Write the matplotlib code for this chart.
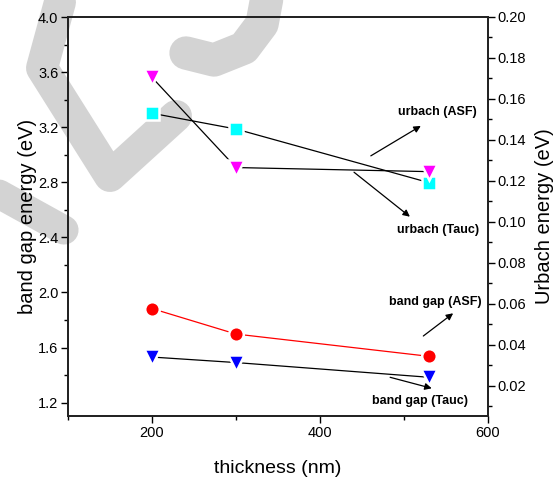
import numpy as np
import matplotlib
matplotlib.use("Agg")
import matplotlib.pyplot as plt
from matplotlib.lines import Line2D
from matplotlib import font_manager
from matplotlib.ticker import MultipleLocator, FixedLocator

plt.rcParams['font.family'] = ['Liberation Sans', 'DejaVu Sans']

# pick a condensed bold face for the callouts if it is there
try:
    font_manager.findfont('Liberation Sans Narrow', fallback_to_default=False)
    narrow = ['Liberation Sans Narrow', 'Liberation Sans']
    note_size = 11
except Exception:
    narrow = ['Liberation Sans', 'DejaVu Sans']
    note_size = 9

# film thickness (nm)
thickness = [200, 300, 530]
# band gap energies (eV), left axis
gap_asf = [1.883, 1.698, 1.536]
gap_tauc = [1.531, 1.491, 1.384]
# Urbach energies (eV), right axis
urbach_asf = [0.153, 0.1453, 0.1191]
urbach_tauc = [0.1705, 0.1265, 0.1245]

W, H = 559, 483
fig = plt.figure(figsize=(W / 100, H / 100), dpi=100)

# light grey background strokes (pixel coords, y down)
grey = '#d3d3d3'
strokes = [
    ([60, 42, 110, 176], [2, 68, 176, 116], 23),
    ([-12, 64], [188, 230], 21),
    ([186, 214, 244, 262, 268], [53, 60, 48, 24, -8], 24),
]
for px, py, w in strokes:
    fig.add_artist(Line2D(np.array(px) / W, 1 - np.array(py) / H,
                          transform=fig.transFigure, color=grey, lw=w,
                          solid_capstyle='round', solid_joinstyle='round',
                          zorder=-5))

ax = fig.add_axes([68 / W, 1 - 416 / H, 420 / W, 399 / H])
ax.patch.set_visible(False)
ax2 = ax.twinx()

ms_kw = dict(mec='white', mew=1.8)
ax.plot(thickness, gap_asf, '-', color='red', lw=0.9, marker='o', ms=10.5,
        mfc='red', **ms_kw)
ax.plot(thickness, gap_tauc, '-', color='black', lw=0.9, marker='v', ms=11.5,
        mfc='blue', **ms_kw)
ax2.plot(thickness, urbach_asf, '-', color='black', lw=0.9, marker='s', ms=9.5,
         mfc='cyan', **ms_kw)
ax2.plot(thickness, urbach_tauc, '-', color='black', lw=0.9, marker='v', ms=11.5,
         mfc='magenta', **ms_kw)

ax.set_xlim(100, 600)
ax.set_ylim(1.103, 4.0)
ax2.set_ylim(0.0052, 0.20)

ax.xaxis.set_major_locator(FixedLocator([200, 400, 600]))
ax.xaxis.set_minor_locator(FixedLocator([100, 300, 500]))
ax.set_yticks(np.arange(1.2, 4.01, 0.4))
ax.yaxis.set_minor_locator(MultipleLocator(0.2))
ax2.yaxis.set_major_locator(MultipleLocator(0.02))
ax2.yaxis.set_minor_locator(MultipleLocator(0.01))
ax.yaxis.set_major_formatter(plt.FormatStrFormatter('%.1f'))
ax2.yaxis.set_major_formatter(plt.FormatStrFormatter('%.2f'))

for a in (ax, ax2):
    a.tick_params(which='major', direction='out', length=5, width=1,
                  labelsize=10.5, pad=2)
    a.tick_params(which='minor', direction='out', length=3, width=1)
    for s in a.spines.values():
        s.set_linewidth(1.3)
        s.set_color('#222222')
ax.tick_params(axis='x', which='both', top=False)
ax.tick_params(axis='y', which='both', right=False)
ax2.tick_params(axis='y', which='both', left=False)

ax.set_xlabel('thickness (nm)', fontsize=14)
ax.set_ylabel('band gap energy (eV)', fontsize=14.5)
ax2.set_ylabel('Urbach energy (eV)', fontsize=14.5)
ax.xaxis.set_label_coords(0.5, -0.11)
ax.yaxis.set_label_coords(-0.074, 0.5)
ax2.yaxis.set_label_coords(1.112, 0.5)

# callouts: label text, text position, arrow tail, arrow head (axes fraction)
notes = [
    ('urbach (ASF)', (0.879, 0.761), (0.721, 0.652), (0.840, 0.727)),
    ('urbach (Tauc)', (0.881, 0.466), (0.681, 0.611), (0.814, 0.4995)),
    ('band gap (ASF)', (0.874, 0.285), (0.846, 0.2005), (0.917, 0.2574)),
    ('band gap (Tauc)', (0.838, 0.038), (0.767, 0.097), (0.866, 0.0694)),
]
for label, tpos, tail, head in notes:
    ax2.text(*tpos, label, transform=ax2.transAxes, ha='center', va='center',
             fontsize=note_size, fontweight='bold', family=narrow)
    ax2.annotate('', xy=head, xycoords='axes fraction', xytext=tail,
                 textcoords='axes fraction',
                 arrowprops=dict(arrowstyle='-|>', color='black', lw=0.9,
                                 mutation_scale=10, shrinkA=0, shrinkB=0))

fig.savefig('out.png', dpi=100)
